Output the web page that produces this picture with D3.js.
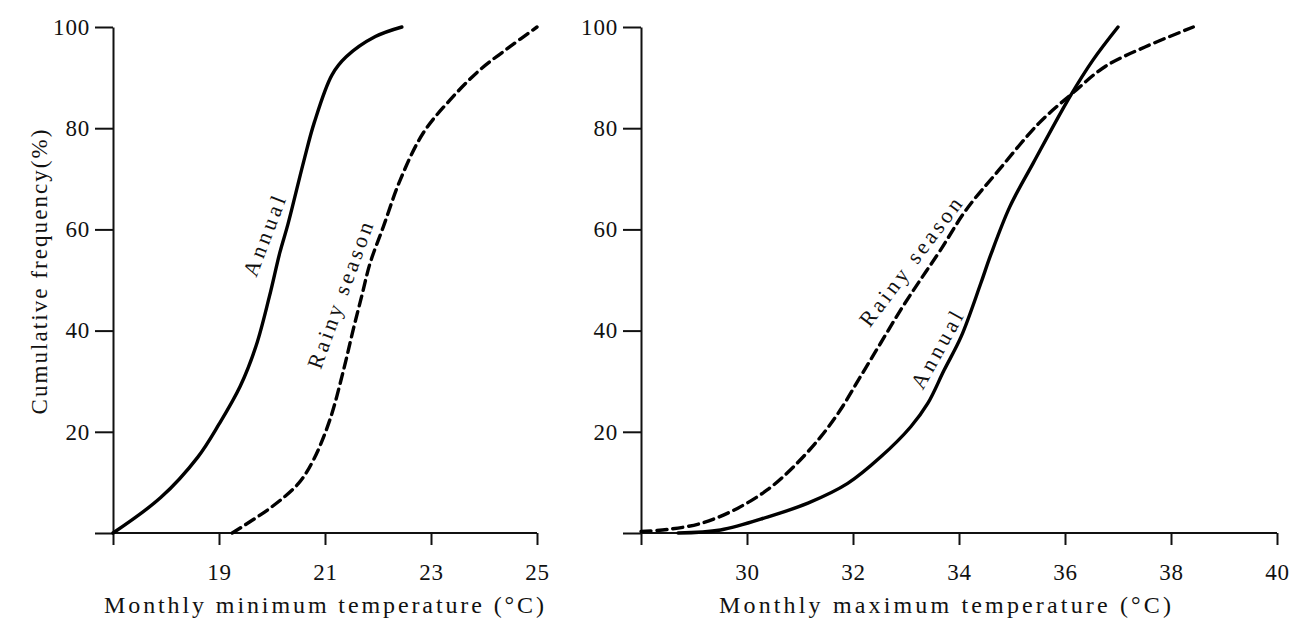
<!DOCTYPE html>
<html>
<head>
<meta charset="utf-8">
<script src="https://cdn.jsdelivr.net/npm/d3@7"></script>
<style>
body{margin:0;background:#fff}
svg{display:block}
text{font-family:"Liberation Serif","Times New Roman",serif;fill:#111}
</style>
</head>
<body>
<script>
// left panel: monthly minimum temperature
const minTicks=[17,19,21,23,25]
const minAnnualT=[17,17.9,18.6,19.0,19.4,19.7,19.95,20.15,20.3,20.6,20.8,21.13,21.4,21.95,22.45]
const minAnnualP=[0,7,15,21.5,29,37,46.7,55.5,61,73.5,81.2,90.5,94.1,98.1,100]
const minRainyT=[19.25,20.0,20.5,20.78,21.09,21.35,21.53,21.69,21.85,22.1,22.42,22.85,23.36,23.92,24.49,25]
const minRainyP=[0,5.2,9.8,14.4,22.3,32.2,40.1,46.7,53.3,60.5,69.8,79,85.6,91.5,96.1,100]

// right panel: monthly maximum temperature
const maxTicks=[28,30,32,34,36,38,40]
const maxAnnualT=[28.7,29.5,30.4,31.15,31.9,32.53,33.09,33.41,33.72,34.04,34.41,34.6,34.96,35.4,36.09,36.53,37.0]
const maxAnnualP=[0,0.6,3.2,5.9,9.8,15.1,21,25.6,32.2,38.8,49.3,55,64.5,73.1,86.2,93.5,100]
const maxRainyT=[28,28.5,29.13,29.75,30.38,30.88,31.39,31.76,32.14,32.52,32.9,33.27,33.65,34.13,34.75,35.51,36.14,36.76,37.52,38.42]
const maxRainyP=[0.3,0.7,1.9,4.5,8.5,13.1,19,24.3,30.9,37.5,44.1,50,55.9,63.8,71.7,81,86.9,92.2,96.1,100]

const yTicks=[0,20,40,60,80,100]

// curve labels (anchor in data units)
const minLabels=[{text:"Annual",t:19.85,p:58.7,angle:-69,len:84},{text:"Rainy season",t:21.28,p:47,angle:-70,len:154}]
const maxLabels=[{text:"Rainy season",t:33.08,p:53.6,angle:-53,len:155},{text:"Annual",t:33.58,p:36.2,angle:-61,len:85}]

const W=1302,H=627
const svg=d3.select("body").append("svg").attr("width",W).attr("height",H)

const y=d3.scaleLinear().domain([0,100]).range([533,27])

function panel(xs,ticks,series,labels,title,titleX,titleLen){
	const g=svg.append("g")
	const yax=g.append("g")
		.attr("transform","translate("+xs.range()[0]+",0)")
		.call(d3.axisLeft(y).tickValues(yTicks).tickSize(18).tickSizeOuter(0).tickPadding(5)
			.tickFormat(d=>d==0?"":d))
	const xax=g.append("g")
		.attr("transform","translate(0,"+y(0)+")")
		.call(d3.axisBottom(xs).tickValues(ticks).tickSize(12).tickSizeOuter(0).tickPadding(19)
			.tickFormat(d=>d==ticks[0]?"":d))
	for(const ax of [yax,xax]){
		ax.selectAll("path,line").attr("stroke","#111").attr("stroke-width",2)
		ax.selectAll("text").attr("font-size",23).attr("letter-spacing",0.8)
			.style("font-family",'"Liberation Serif",serif').attr("fill","#111")
	}
	xax.select(".domain").attr("d","M"+xs.range()[0]+",0H"+xs.range()[1])

	const line=d3.line().x(d=>xs(d[0])).y(d=>y(d[1])).curve(d3.curveCatmullRom.alpha(0.5))
	for(const s of series){
		g.append("path")
			.datum(d3.zip(s.t,s.p))
			.attr("d",line)
			.attr("fill","none")
			.attr("stroke","#000")
			.attr("stroke-width",3.4)
			.attr("stroke-linecap","round")
			.attr("stroke-dasharray",s.dash?"10,6":null)
	}
	for(const l of labels){
		g.append("text")
			.attr("transform","translate("+xs(l.t)+","+y(l.p)+") rotate("+l.angle+")")
			.attr("text-anchor","middle")
			.attr("dy","0.35em")
			.attr("font-size",22)
			.attr("textLength",l.len)
			.attr("lengthAdjust","spacing")
			.text(l.text)
	}
	g.append("text")
		.attr("x",titleX).attr("y",613)
		.attr("text-anchor","middle")
		.attr("font-size",24)
		.attr("textLength",titleLen)
		.attr("lengthAdjust","spacing")
		.text(title)
}

const xMin=d3.scaleLinear().domain([17,25]).range([113,537])
const xMax=d3.scaleLinear().domain([28,40]).range([641,1277])

panel(xMin,minTicks,[{t:minAnnualT,p:minAnnualP,dash:false},{t:minRainyT,p:minRainyP,dash:true}],
	minLabels,"Monthly minimum temperature (°C)",324,440)
panel(xMax,maxTicks,[{t:maxAnnualT,p:maxAnnualP,dash:false},{t:maxRainyT,p:maxRainyP,dash:true}],
	maxLabels,"Monthly maximum temperature (°C)",945,452)

svg.append("text")
	.attr("transform","translate(47,272) rotate(-90)")
	.attr("text-anchor","middle")
	.attr("font-size",23)
	.attr("textLength",285)
	.attr("lengthAdjust","spacing")
	.text("Cumulative frequency(%)")
</script>
</body>
</html>
